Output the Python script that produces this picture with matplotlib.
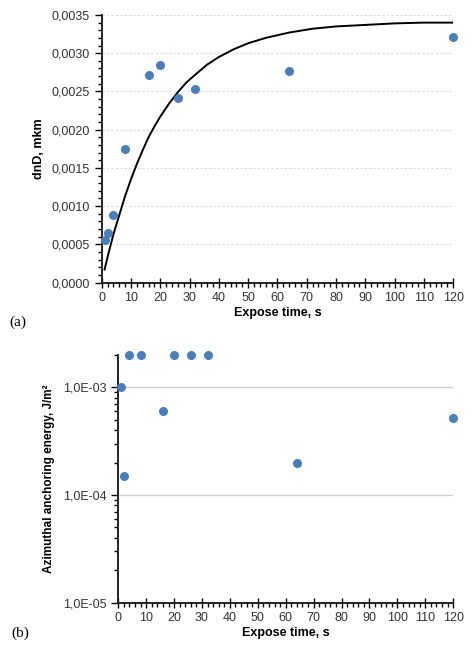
import numpy as np
import matplotlib
matplotlib.use("Agg")
import matplotlib.pyplot as plt
from matplotlib.ticker import MultipleLocator, FuncFormatter, LogLocator, NullFormatter

# data
t_a = [1, 2, 4, 8, 16, 20, 26, 32, 64, 120]
dnD = [0.00056, 0.00065, 0.00088, 0.00175, 0.00271, 0.00284, 0.00241, 0.00253, 0.00277, 0.00321]

# fitted curve
t_fit = [1, 2, 4, 6, 8, 10, 12, 14, 16, 18, 20, 23, 26, 29, 32, 36, 40, 45, 50,
         56, 64, 72, 80, 90, 100, 110, 120]
dnD_fit = [0.00017, 0.00033, 0.00063, 0.00088, 0.00113, 0.00135, 0.00155, 0.00173,
           0.00190, 0.00204, 0.00217, 0.00234, 0.00249, 0.00262, 0.00272, 0.00285,
           0.00295, 0.00305, 0.00313, 0.00320, 0.00327, 0.00332, 0.00335, 0.00337,
           0.00339, 0.00340, 0.00340]

t_b = [1, 2, 4, 8, 16, 20, 26, 32, 64, 120]
energy = [1.0e-3, 1.5e-4, 2.0e-3, 2.0e-3, 6.0e-4, 2.0e-3, 2.0e-3, 2.0e-3, 2.0e-4, 5.2e-4]

plt.rcParams['font.family'] = ['Liberation Sans', 'DejaVu Sans']
blue = '#4a7ebb'
tick_fs = 9

fig = plt.figure(figsize=(4.75, 6.51), dpi=100)
ax1 = fig.add_axes([0.214, 0.566, 0.740, 0.411])
ax2 = fig.add_axes([0.249, 0.0742, 0.705, 0.3805])


def style(ax):
    for s in ['top', 'right']:
        ax.spines[s].set_visible(False)
    for s in ['left', 'bottom']:
        ax.spines[s].set_linewidth(1.4)
        ax.spines[s].set_color('#222222')
    ax.tick_params(axis='x', which='major', direction='inout', length=7, width=1.0,
                   labelsize=tick_fs, labelcolor='#333333')
    ax.tick_params(axis='x', which='minor', direction='out', length=3, width=1.0)
    ax.tick_params(axis='y', which='major', direction='out', length=5, width=1.0,
                   labelsize=tick_fs, labelcolor='#333333')
    ax.tick_params(axis='y', which='minor', direction='out', length=3, width=1.0)
    ax.set_xlim(0, 120)
    ax.xaxis.set_major_locator(MultipleLocator(10))
    ax.xaxis.set_minor_locator(MultipleLocator(2))
    ax.set_xlabel('Expose time, s', fontsize=tick_fs, fontweight='bold', labelpad=2)


# (a)
style(ax1)
ax1.set_ylim(0, 0.0035)
ax1.yaxis.set_major_locator(MultipleLocator(0.0005))
ax1.yaxis.set_minor_locator(MultipleLocator(0.0001))
ax1.yaxis.set_major_formatter(FuncFormatter(lambda v, p: f'{v:.4f}'.replace('.', ',')))
ax1.grid(axis='y', which='major', color='#d9d9d9', linestyle=(0, (2, 2)), linewidth=0.8)
ax1.set_axisbelow(True)
ax1.plot(t_fit, dnD_fit, color='black', linewidth=1.4, zorder=2)
ax1.scatter(t_a, dnD, s=30, color=blue, zorder=3, clip_on=False)
ax1.set_ylabel('dnD, mkm', fontsize=tick_fs, fontweight='bold', labelpad=5)

# (b)
style(ax2)
ax2.set_yscale('log')
ax2.set_ylim(1e-5, 2e-3)
ax2.yaxis.set_major_locator(LogLocator(base=10, numticks=10))
ax2.yaxis.set_minor_locator(LogLocator(base=10, subs=np.arange(2, 10), numticks=20))
ax2.yaxis.set_minor_formatter(NullFormatter())

def sci_fmt(v, p):
    e = int(round(np.log10(v)))
    return f'1,0E-{abs(e):02d}'

ax2.yaxis.set_major_formatter(FuncFormatter(sci_fmt))
ax2.grid(axis='y', which='major', color='#cccccc', linestyle='-', linewidth=0.9)
ax2.set_axisbelow(True)
ax2.scatter(t_b, energy, s=30, color=blue, zorder=3, clip_on=False)
ax2.set_ylabel('Azimuthal anchoring energy, J/m²', fontsize=8.5, fontweight='bold', labelpad=6)

fig.text(0.038, 1 - 322 / 651, '(a)', fontsize=11, family=['Liberation Serif'], ha='center', va='center')
fig.text(0.042, 1 - 633 / 651, '(b)', fontsize=11, family=['Liberation Serif'], ha='center', va='center')

fig.savefig('out.png', dpi=100)
